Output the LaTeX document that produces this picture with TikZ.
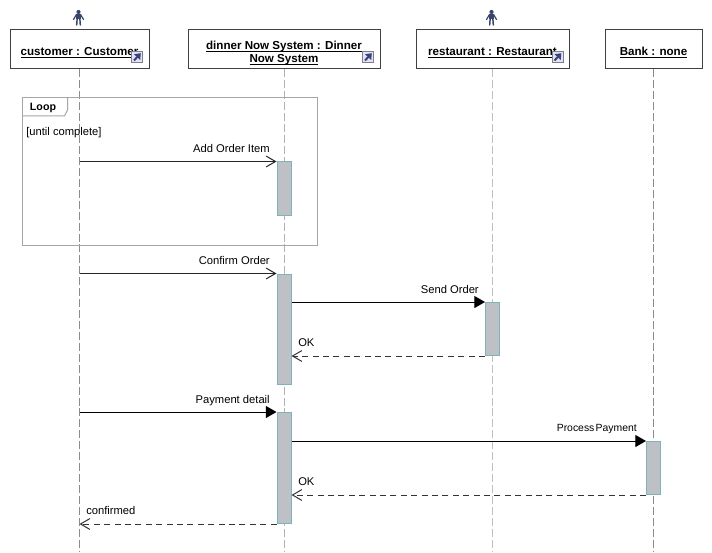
\documentclass[tikz,border=0pt]{standalone}
\usepackage{fontspec}
\setmainfont{Liberation Sans}
\usetikzlibrary{arrows.meta,positioning,calc}

\definecolor{barfill}{HTML}{BDC1C6}
\definecolor{baredge}{HTML}{7FB3BA}
\definecolor{figure}{HTML}{39456B}

\tikzset{
  headbox/.style={draw=black!75,line width=0.75pt,fill=white,minimum height=39*0.75pt,inner sep=0pt,align=center,font=\fontsize{8.7}{9.75}\selectfont\bfseries},
  lifeline/.style={draw=black!45,dash pattern=on 6pt off 2.2pt,line width=0.75pt},
  activation/.style={draw=baredge,fill=barfill,line width=0.75pt,minimum width=14*0.75pt,inner sep=0pt,anchor=north},
  callmsg/.style={draw=black!85,line width=0.75pt,-{Straight Barb[length=7pt,width=8.5pt,angle'=60]}},
  syncmsg/.style={draw=black,line width=0.75pt,-{Triangle[length=8pt,width=9pt]}},
  backmsg/.style={draw=black!80,line width=0.75pt,dash pattern=on 4.5pt off 3.3pt,-{Straight Barb[length=7pt,width=8.5pt,angle'=60]}},
  msglabel/.style={inner sep=0pt,font=\fontsize{8.4}{10}\selectfont},
}

% underlined name with the rule close under the baseline
\newcommand{\headname}[1]{\rule{0pt}{7.6pt}\raisebox{-1pt}[0pt][0pt]{\underline{\smash{#1}}}}

% stick figure above a lifeline head
\newcommand{\figureicon}[1]{
  \begin{scope}[shift={(#1)},figure,line cap=round]
    \fill (0,-6) circle (2.1);
    \fill (-2.2,-3.8) rectangle (2.2,1.5);
    \draw[line width=1.1pt] (-1.4,1.2) -- (-1.8,7);
    \draw[line width=1.1pt] (1.4,1.2) -- (1.8,7);
    \draw[line width=0.9pt] (-2,-3.5) -- (-5,1.5);
    \draw[line width=0.9pt] (2,-3.5) -- (5,1.5);
  \end{scope}
}
% shortcut mark in the corner of a head
\newcommand{\linkicon}[1]{
  \begin{scope}[shift={(#1)}]
    \draw[draw=black!50,fill=blue!12,line width=0.75pt] (-5.5,-5.5) rectangle (5.5,5.5);
    \draw[draw=figure,line width=1.5pt,-{Triangle[length=4pt,width=6pt]}] (-3,3.5) -- (3.8,-3.8);
  \end{scope}
}

\begin{document}
\begin{tikzpicture}[x=0.75pt,y=-0.75pt]
  \useasboundingbox (0,0) rectangle (712,552);
  \fill[white] (0,0) rectangle (712,552);

  % Heads
  \node[headbox,minimum width=139*0.75pt] (customer) at (79.5,49.5) {\headname{customer : Customer}};
  \node[headbox,minimum width=192*0.75pt] (dinner) at (284,49.5) {\headname{dinner Now System : Dinner}\\\headname{Now System}};
  \node[headbox,minimum width=153*0.75pt] (restaurant) at (492.5,49.5) {\headname{restaurant : Restaurant}};
  \node[headbox,minimum width=97*0.75pt] (bank) at (653.5,49.5) {\headname{Bank : none}};

  \figureicon{78.5,18}
  \figureicon{491.5,18}
  \linkicon{137,57}
  \linkicon{368,57}
  \linkicon{557.5,57}

  % Lifelines
  \coordinate (customerEnd) at (customer.south |- 0,552);
  \coordinate (dinnerEnd) at (dinner.south |- 0,552);
  \coordinate (restaurantEnd) at (restaurant.south |- 0,552);
  \coordinate (bankEnd) at (bank.south |- 0,552);
  \draw[lifeline] (customer.south) -- (customerEnd);
  \draw[lifeline,black!30] (dinner.south) -- (dinnerEnd);
  \draw[lifeline,black!25] (restaurant.south) -- (restaurantEnd);
  \draw[lifeline] (bank.south) -- (bankEnd);

  % Loop frame
  \draw[draw=black!35,line width=0.75pt] (22.5,97.5) rectangle (317.5,245);
  \draw[draw=black!35,line width=0.75pt] (22.5,116) -- (64.5,116) -- (67.5,110) -- (67.5,97.5);
  \node[msglabel,font=\fontsize{8}{9.6}\selectfont\bfseries] (loopname) at (43,108) {Loop};
  \node[msglabel,anchor=west] (guard) at (26,132.5) {[until complete]};

  % Activations
  \node[activation,minimum height=53*0.75pt] (addbar) at (284,161.5) {};
  \node[activation,minimum height=110*0.75pt] (confirmbar) at (284,273.5) {};
  \node[activation,minimum height=53*0.75pt] (sendbar) at (492.5,302) {};
  \node[activation,minimum height=111*0.75pt] (paybar) at (284,412) {};
  \node[activation,minimum height=53*0.75pt] (processbar) at (653.5,441) {};

  % Messages
  \coordinate (addStart) at (customer.south |- addbar.north);
  \coordinate (confirmStart) at (customer.south |- confirmbar.north);
  \coordinate (payStart) at (customer.south |- paybar.north);
  \coordinate (doneEnd) at (customer.south |- paybar.south);
  \draw[callmsg] (addStart) -- (addbar.north west);
  \draw[callmsg] (confirmStart) -- (confirmbar.north west);
  \draw[syncmsg] (confirmbar.east |- sendbar.north) -- (sendbar.north west);
  \draw[backmsg] (sendbar.south west) -- (confirmbar.east |- sendbar.south west);
  \draw[syncmsg] (payStart) -- (paybar.north west);
  \draw[syncmsg] (paybar.east |- processbar.north) -- (processbar.north west);
  \draw[backmsg] (processbar.south west) -- (paybar.east |- processbar.south west);
  \draw[backmsg] (paybar.south west) -- (doneEnd);

  % Message labels
  \node[msglabel,anchor=east] (addlabel) at (270,148.5) {Add Order Item};
  \node[msglabel,anchor=east] (confirmlabel) at (270,260.5) {Confirm Order};
  \node[msglabel,anchor=east] (sendlabel) at (479,289.5) {Send Order};
  \node[msglabel,anchor=west] (oklabel) at (298,343) {OK};
  \node[msglabel,anchor=east] (paylabel) at (270,400.5) {Payment detail};
  \node[msglabel,anchor=east,font=\fontsize{7.8}{9.6}\selectfont] (processlabel) at (637,429) {Process\hspace{-1.2pt} Payment};
  \node[msglabel,anchor=west] (oktwolabel) at (298,482) {OK};
  \node[msglabel,anchor=west] (donelabel) at (86,510) {confirmed};
\end{tikzpicture}
\end{document}
